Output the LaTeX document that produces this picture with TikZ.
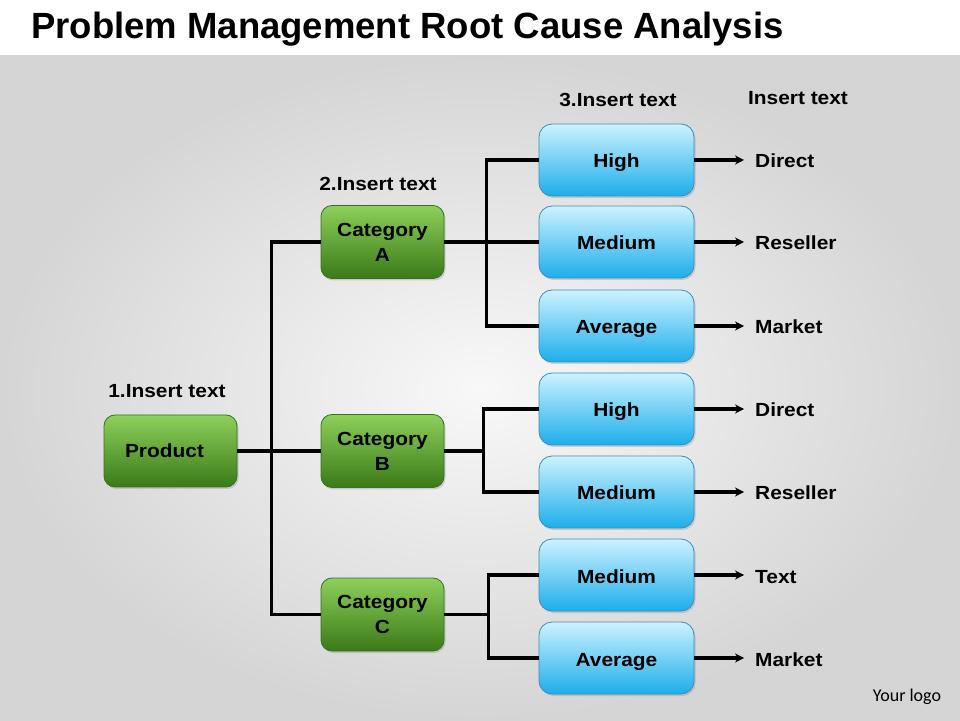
\documentclass[tikz,border=0pt]{standalone}
\usepackage{fontspec}
\setmainfont{Liberation Sans}[FakeStretch=1.1]
\newfontfamily\titlefont{Liberation Sans}
\newfontfamily\logofont{Carlito}
\usepackage{tikz}
\usetikzlibrary{shadows, arrows.meta}
\definecolor{greentop}{HTML}{8DD05B}
\definecolor{greenbot}{HTML}{3A7A18}
\definecolor{greenline}{HTML}{3D6E25}
\definecolor{bluetop}{HTML}{CDF2FF}
\definecolor{bluebot}{HTML}{1CAEEA}
\definecolor{blueline}{HTML}{3B8DC0}
\definecolor{bgin}{HTML}{F8F8F8}
\definecolor{bgout}{HTML}{D5D5D5}
\tikzstyle{greenbox}=[rectangle, rounded corners=11pt, draw=greenline, line width=0.8pt, top color=greentop, bottom color=greenbot, minimum width=123pt, minimum height=73pt, inner sep=0pt, align=center, font=\fontsize{19}{25}\selectfont\bfseries, drop shadow={shadow xshift=1.5pt, shadow yshift=-2pt, opacity=0.3}]
\tikzstyle{bluebox}=[rectangle, rounded corners=13pt, draw=blueline, line width=0.8pt, top color=bluetop, bottom color=bluebot, minimum width=155pt, minimum height=72pt, inner sep=0pt, text height=18pt, text depth=2pt, font=\fontsize{19}{25}\selectfont\bfseries, drop shadow={shadow xshift=1.5pt, shadow yshift=-2pt, opacity=0.3}]
\tikzstyle{tag}=[inner sep=0pt, text height=18pt, text depth=2pt, font=\fontsize{19}{23}\selectfont\bfseries]
\tikzstyle{conn}=[line width=3.2pt]
\tikzstyle{arr}=[line width=3.2pt, -{Stealth[length=9pt, width=9pt]}, shorten >=11pt]
\newcommand{\greenbox}{\node[greenbox]}
\newcommand{\bluebox}{\node[bluebox]}
\newcommand{\tagtext}{\node[tag]}

\begin{document}
\begin{tikzpicture}[x=1pt, y=1pt]
\useasboundingbox (0,0) rectangle (960,720);
\fill[white] (0,664) rectangle (960,720);
\shade[inner color=bgin, outer color=bgout] (0,0) rectangle (960,664);

\node[anchor=base west, inner sep=0pt, font=\titlefont\bfseries\fontsize{36.5}{40}\selectfont] (title) at (31,681) {Problem Management Root Cause Analysis};

    \greenbox[minimum width=133pt, minimum height=72pt] (prod) at (170.5,269) {Product\hspace*{12pt}};
    \greenbox (catA) at (382.5,478) {Category\\A};
    \greenbox (catB) at (382.5,269) {Category\\B};
    \greenbox (catC) at (382.5,105.5) {Category\\C};

    \bluebox (hiA) at (616.5,560) {High};
    \bluebox (meA) at (616.5,478) {Medium};
    \bluebox (avA) at (616.5,394) {Average};
    \bluebox (hiB) at (616.5,311) {High};
    \bluebox (meB) at (616.5,228) {Medium};
    \bluebox (meC) at (616.5,145) {Medium};
    \bluebox (avC) at (616.5,62) {Average};

    \tagtext (hd1) at (167,330) {1.Insert text};
    \tagtext (hd2) at (378,537) {2.Insert text};
    \tagtext (hd3) at (618,621) {3.Insert text};
    \tagtext (hd4) at (798,623) {Insert text};

    \tagtext[anchor=west] (dirA) at (755,560) {Direct};
    \tagtext[anchor=west] (resA) at (755,478) {Reseller};
    \tagtext[anchor=west] (mktA) at (755,394) {Market};
    \tagtext[anchor=west] (dirB) at (755,311) {Direct};
    \tagtext[anchor=west] (resB) at (755,228) {Reseller};
    \tagtext[anchor=west] (txtC) at (755,145) {Text};
    \tagtext[anchor=west] (mktC) at (755,62) {Market};

\node[inner sep=0pt, font=\logofont\fontsize{18}{20}\selectfont] (logo) at (907,23) {Your logo};

    \draw[conn] (prod.east) -- (catB.west);
    \draw[conn] (catA.west) -- ++(-49,0) |- (catC.west);
    \draw[conn] (catA.east) -- (meA.west);
    \draw[conn] (hiA.west) -- ++(-52,0) |- (avA.west);
    \draw[conn] (catB.east) -- ++(40,0);
    \draw[conn] (hiB.west) -- ++(-55,0) |- (meB.west);
    \draw[conn] (catC.east) -- ++(45,0);
    \draw[conn] (meC.west) -- ++(-50,0) |- (avC.west);

    \draw[arr] (hiA.east) -- (dirA.west);
    \draw[arr] (meA.east) -- (resA.west);
    \draw[arr] (avA.east) -- (mktA.west);
    \draw[arr] (hiB.east) -- (dirB.west);
    \draw[arr] (meB.east) -- (resB.west);
    \draw[arr] (meC.east) -- (txtC.west);
    \draw[arr] (avC.east) -- (mktC.west);
\end{tikzpicture}
\end{document}
